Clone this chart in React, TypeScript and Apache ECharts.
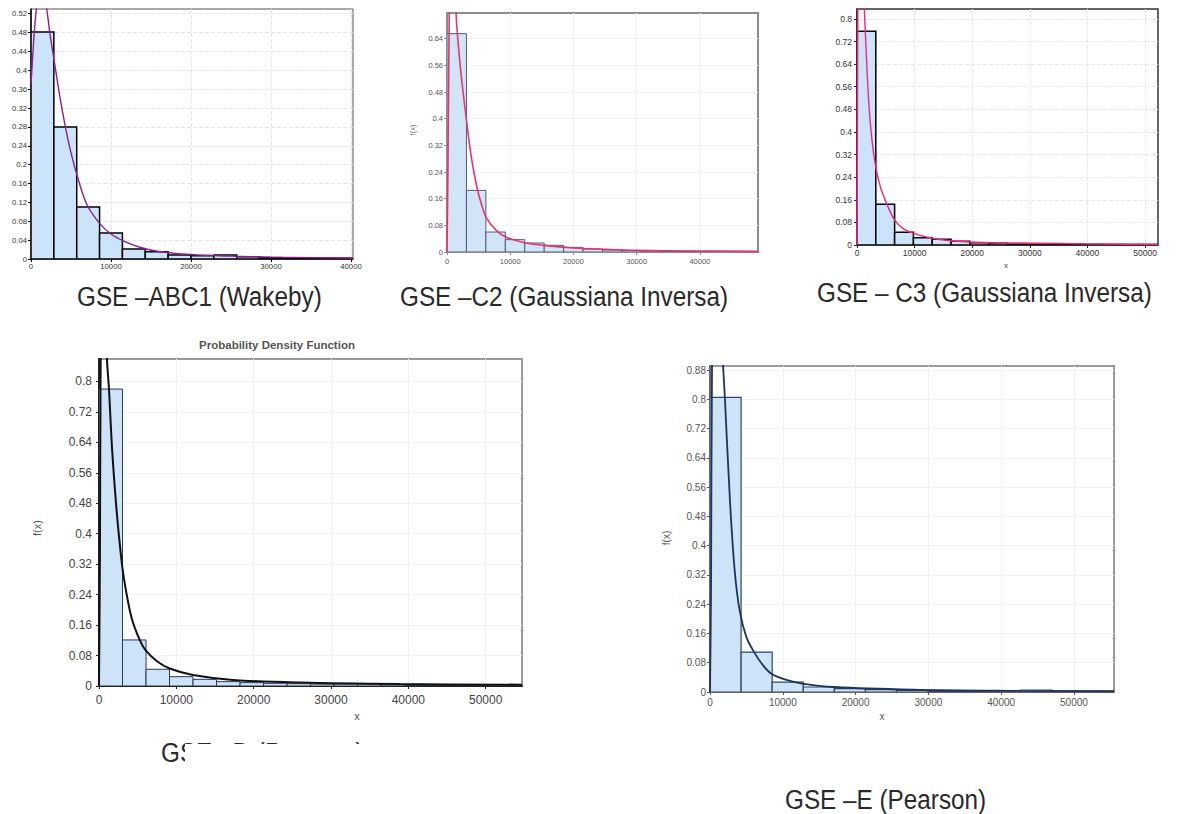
import React, { useEffect, useRef } from 'react';
import * as echarts from 'echarts';

// ---------- data ----------
// GSE – ABC1 (Wakeby)
const abc1BinWidth = 2857;
const abc1Bars = [0.481, 0.28, 0.11, 0.055, 0.021, 0.0155, 0.0085, 0.007, 0.0085, 0.005, 0.003, 0.002, 0.0015, 0.0015];
const abc1Curve = [[0, 0.37], [250, 0.44], [500, 0.5], [800, 0.545], [1200, 0.565], [1600, 0.555], [1960, 0.53], [2350, 0.48], [2900, 0.42], [3600, 0.345], [4300, 0.28], [5000, 0.225], [5800, 0.175], [7000, 0.115], [8600, 0.075], [10000, 0.053], [11600, 0.038], [13600, 0.025], [16000, 0.016], [20000, 0.0095], [25000, 0.006], [30000, 0.004], [35000, 0.003], [40250, 0.002]];

// GSE – C2 (Gaussiana Inversa)
const c2BinWidth = 3075;
const c2Bars = [0.655, 0.185, 0.06, 0.037, 0.027, 0.02, 0.014, 0.009, 0.006, 0.004, 0.003, 0.002, 0.0015, 0.001, 0.001, 0.001];
const c2Curve = [[0, 0], [150, 0.25], [300, 0.6], [500, 0.9], [800, 1.0], [1100, 0.9], [1430, 0.717], [1700, 0.64], [2300, 0.52], [3020, 0.405], [3800, 0.29], [4720, 0.195], [5500, 0.14], [6300, 0.1], [7800, 0.065], [9300, 0.045], [12300, 0.028], [15300, 0.02], [20000, 0.012], [25000, 0.008], [30000, 0.005], [40000, 0.003], [49200, 0.002]];

// GSE – C3 (Gaussiana Inversa)
const c3BinWidth = 3265;
const c3Bars = [0.756, 0.144, 0.045, 0.026, 0.02, 0.013, 0.008, 0.006, 0.005, 0.005, 0.005, 0.003, 0.002, 0.002, 0.002, 0.002];
const c3Curve = [[0, 0], [60, 0.3], [120, 0.7], [250, 1.1], [600, 1.3], [1000, 1.0], [1270, 0.835], [1440, 0.756], [2020, 0.51], [2600, 0.37], [3233, 0.278], [4040, 0.207], [5200, 0.144], [6520, 0.089], [8000, 0.058], [9815, 0.041], [13050, 0.024], [16280, 0.015], [23100, 0.008], [34640, 0.005], [52250, 0.002]];

// GSE – D (Pearson)
const dBinWidth = 3040;
const dBars = [0.78, 0.121, 0.044, 0.0245, 0.0175, 0.0114, 0.0088, 0.007, 0.006, 0.005, 0.005, 0.005, 0.003, 0.0015, 0.001, 0.001, 0.001, 0.001];
const dCurve = [[0, 0], [120, 0.35], [200, 0.8], [400, 1.2], [750, 1.1], [1034, 0.859], [1290, 0.78], [1700, 0.62], [2240, 0.47], [2700, 0.37], [3190, 0.287], [4200, 0.18], [5260, 0.121], [5990, 0.095], [7500, 0.065], [9140, 0.046], [12150, 0.029], [17330, 0.016], [25950, 0.009], [38880, 0.005], [54700, 0.0035]];

// GSE – E (Pearson)
const eBinWidth = 4270;
const eBars = [0.805, 0.109, 0.027, 0.0137, 0.009, 0.0064, 0.0045, 0.003, 0.003, 0.0035, 0.0055, 0.003, 0.003];
const eCurve = [[0, 0], [150, 0.3], [280, 0.9], [700, 1.3], [1350, 1.05], [1800, 0.89], [2040, 0.805], [2750, 0.52], [3400, 0.33], [4070, 0.223], [5000, 0.15], [6060, 0.109], [7200, 0.075], [8430, 0.05], [10500, 0.033], [12690, 0.023], [17050, 0.0137], [27840, 0.0064], [42050, 0.003], [55500, 0.0015]];

const captions = [
  'GSE –ABC1 (Wakeby)',
  'GSE –C2 (Gaussiana Inversa)',
  'GSE – C3 (Gaussiana Inversa)',
  'GSE –D (Pearson)',
  'GSE –E (Pearson)',
];
const pdfTitle = 'Probability Density Function';
const xName = 'x';
const yName = 'f(x)';

// ---------- panel layout & style ----------
const panels = [
  {
    bw: abc1BinWidth, bars: abc1Bars, curve: abc1Curve,
    grid: { left: 31, top: 9, width: 322, height: 250 },
    xMax: 40250, yMax: 0.53, yInt: 0.04,
    fill: '#cce4fa', stroke: '#000', barLw: 1.5, curveColor: '#8e1f8e', curveLw: 1.4,
    frame: '#555', frameW: 1, axis: '#000', axisW: 1.5,
    fs: 7.7, lc: '#333', yMargin: 4, xMargin: 3, split: '#e6e6e6', splitType: 'dashed',
  },
  {
    bw: c2BinWidth, bars: c2Bars, curve: c2Curve,
    grid: { left: 447, top: 13, width: 311, height: 239 },
    xMax: 49200, yMax: 0.717, yInt: 0.08,
    fill: '#d2e5f7', stroke: '#4d5c80', barLw: 1, curveColor: '#e8336d', curveLw: 1.6,
    frame: '#8c8c8c', frameW: 2, axis: '#8c8c8c', axisW: 1,
    fs: 7.5, lc: '#555', yMargin: 4, xMargin: 5, split: '#f2f2f2', splitType: 'solid',
  },
  {
    bw: c3BinWidth, bars: c3Bars, curve: c3Curve,
    grid: { left: 857, top: 9, width: 301, height: 236 },
    xMax: 52250, yMax: 0.835, yInt: 0.08,
    fill: '#cce4fa', stroke: '#000', barLw: 1.5, curveColor: '#f5257f', curveLw: 1.4,
    frame: '#333', frameW: 1.5, axis: '#222', axisW: 1.5,
    fs: 8.5, lc: '#333', yMargin: 5, xMargin: 3, split: '#e8e8e8', splitType: 'dashed',
  },
  {
    bw: dBinWidth, bars: dBars, curve: dCurve,
    grid: { left: 99, top: 359, width: 423, height: 327 },
    xMax: 54700, yMax: 0.859, yInt: 0.08,
    fill: '#cde3f8', stroke: '#2b3a55', barLw: 1, curveColor: '#111', curveLw: 2,
    frame: '#999', frameW: 2, axis: '#222', axisW: 2,
    fs: 12, lc: '#444', yMargin: 7, xMargin: 8, split: '#f2f2f2', splitType: 'solid',
  },
  {
    bw: eBinWidth, bars: eBars, curve: eCurve,
    grid: { left: 710, top: 366, width: 404, height: 326 },
    xMax: 55500, yMax: 0.891, yInt: 0.08,
    fill: '#cde3f8', stroke: '#2f4466', barLw: 1.2, curveColor: '#1d3557', curveLw: 1.8,
    frame: '#9a9a9a', frameW: 2, axis: '#555', axisW: 1.5,
    fs: 10, lc: '#555', yMargin: 4, xMargin: 5, split: '#f2f2f2', splitType: 'solid',
  },
];

function buildOption() {
  const grid: any[] = [];
  const xAxis: any[] = [];
  const yAxis: any[] = [];
  const series: any[] = [];
  panels.forEach((p, i) => {
    grid.push({ ...p.grid, show: true, borderColor: p.frame, borderWidth: p.frameW, backgroundColor: '#fff' });
    xAxis.push({
      type: 'value', gridIndex: i, min: 0, max: p.xMax, interval: 10000,
      axisLine: { show: true, onZero: false, lineStyle: { color: p.axis, width: p.axisW } },
      axisTick: { show: true, length: 3, lineStyle: { color: p.axis } },
      axisLabel: { fontSize: p.fs, color: p.lc, margin: p.xMargin, fontFamily: 'Liberation Sans', showMaxLabel: false, formatter: (v: number) => String(v) },
      splitLine: { show: true, showMinLine: false, showMaxLine: false, lineStyle: { color: p.split, type: p.splitType } },
    });
    yAxis.push({
      type: 'value', gridIndex: i, min: 0, max: p.yMax, interval: p.yInt,
      axisLine: { show: true, lineStyle: { color: p.axis, width: p.axisW } },
      axisTick: { show: true, length: 3, lineStyle: { color: p.axis } },
      axisLabel: { fontSize: p.fs, color: p.lc, margin: p.yMargin, fontFamily: 'Liberation Sans', showMaxLabel: false },
      splitLine: { show: true, showMinLine: false, showMaxLine: false, lineStyle: { color: p.split, type: p.splitType } },
    });
    series.push({
      type: 'custom', xAxisIndex: i, yAxisIndex: i,
      data: p.bars.map((h, k) => [k * p.bw, (k + 1) * p.bw, h]),
      encode: { x: [0, 1], y: 2 },
      clip: true,
      renderItem: (params: any, api: any) => {
        const a = api.coord([api.value(0), api.value(2)]);
        const b = api.coord([api.value(1), 0]);
        return {
          type: 'rect',
          shape: { x: a[0], y: a[1], width: b[0] - a[0], height: b[1] - a[1] },
          style: { fill: p.fill, stroke: p.stroke, lineWidth: p.barLw },
        };
      },
      z: 2,
    });
    series.push({
      type: 'line', xAxisIndex: i, yAxisIndex: i, data: p.curve,
      smooth: 0.35, showSymbol: false, clip: true,
      lineStyle: { color: p.curveColor, width: p.curveLw }, z: 3,
    });
  });

  const cap = (text: string, x: number, y: number) => ({
    type: 'text', x, y, scaleX: 0.9, z: 50,
    style: { text, fontSize: 27, fontFamily: 'Liberation Sans', fill: '#2a2a2a', align: 'left', verticalAlign: 'middle' },
  });
  const small = (text: string, x: number, y: number, fs: number, rot = 0, fill = '#555') => ({
    type: 'text', x, y, rotation: rot,
    style: { text, fontSize: fs, fontFamily: 'Liberation Sans', fill, align: 'center', verticalAlign: 'middle' },
  });
  const graphic: any[] = [
    cap(captions[0], 77, 297),
    cap(captions[1], 400, 297),
    cap(captions[2], 817, 293),
    cap(captions[3], 161, 753),
    { type: 'rect', x: 185, y: 744, shape: { width: 230, height: 34 }, style: { fill: '#fff' }, z: 100 },
    cap(captions[4], 785, 800),
    { type: 'text', x: 277, y: 345, style: { text: pdfTitle, fontSize: 11.5, fontWeight: 'bold', fontFamily: 'Liberation Sans', fill: '#555', align: 'center', verticalAlign: 'middle' } },
    small(yName, 37, 528, 11, Math.PI / 2),
    small(yName, 666, 538, 10, Math.PI / 2),
    small(yName, 412, 130, 7.5, Math.PI / 2, '#777'),
    small(xName, 357, 716, 11),
    small(xName, 882, 716, 10),
    small(xName, 1006, 265, 8, 0, '#444'),
  ];

  return { animation: false, backgroundColor: '#fff', grid, xAxis, yAxis, series, graphic };
}

export default function App() {
  const ref = useRef<HTMLDivElement>(null);
  useEffect(() => {
    if (!ref.current) return;
    const chart = echarts.init(ref.current, undefined, { renderer: 'svg' });
    chart.setOption(buildOption() as any);
    return () => chart.dispose();
  }, []);
  return (
    <div
      ref={ref}
      style={{ position: 'fixed', left: 0, top: 0, width: 1177, height: 814, background: '#fff' }}
    />
  );
}
